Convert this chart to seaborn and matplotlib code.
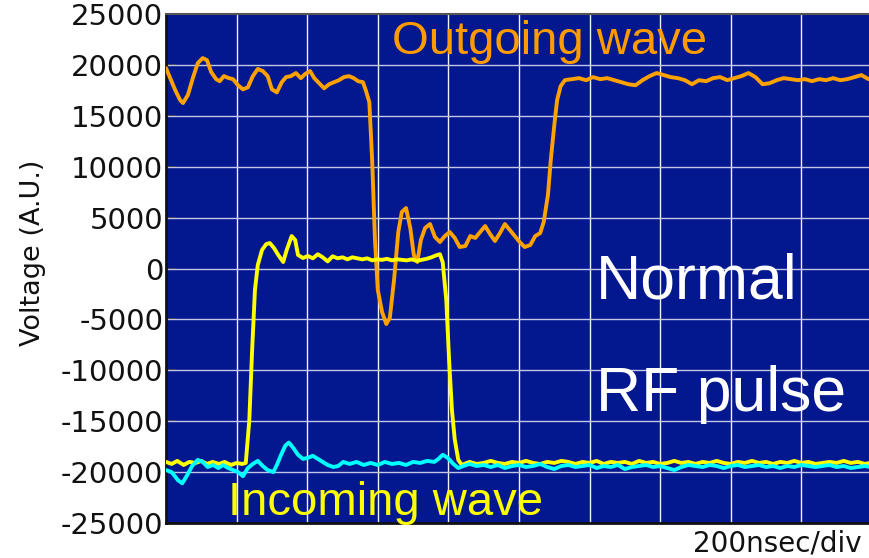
import matplotlib
matplotlib.use("Agg")
import matplotlib.pyplot as plt
import seaborn as sns
import numpy as np
import pandas as pd

# ---------------- data (x in divisions of 200 nsec, y in A.U.) ----------------
x_out = [0.00, 0.06, 0.13, 0.20, 0.24, 0.31, 0.38, 0.45, 0.52, 0.58, 0.64, 0.71, 0.76, 0.82,
         0.89, 0.95, 1.02, 1.09, 1.16, 1.23, 1.30, 1.37, 1.44, 1.50, 1.57, 1.64, 1.70, 1.77,
         1.84, 1.91, 1.97, 2.04, 2.10, 2.17, 2.24, 2.31, 2.38, 2.45, 2.52, 2.59, 2.66, 2.72,
         2.79, 2.83, 2.88, 2.92, 2.96, 3.00, 3.06, 3.12, 3.17, 3.23, 3.29, 3.34, 3.40, 3.46,
         3.51, 3.56, 3.61, 3.67, 3.74, 3.81, 3.88, 3.95, 4.02, 4.09, 4.16, 4.24, 4.31, 4.38,
         4.45, 4.52, 4.59, 4.66, 4.73, 4.80, 4.87, 4.94, 5.01, 5.08, 5.16, 5.23, 5.30, 5.35,
         5.41, 5.45, 5.50, 5.54, 5.59, 5.65,
         5.75, 5.85, 5.95, 6.05, 6.15, 6.25, 6.35, 6.45, 6.55, 6.65, 6.75, 6.85, 6.95, 7.05,
         7.15, 7.25, 7.35, 7.45, 7.55, 7.65, 7.75, 7.85, 7.95, 8.05, 8.15, 8.25, 8.35, 8.45,
         8.55, 8.65, 8.75, 8.85, 8.95, 9.05, 9.15, 9.25, 9.35, 9.45, 9.55, 9.65, 9.75, 9.85,
         9.95]
y_out = [19690, 18700, 17530, 16550, 16250, 17040, 18700, 20180, 20670, 20470, 19300, 18600,
         18400, 18900, 18700, 18600, 18000, 17600, 17800, 18900, 19600, 19400, 18900, 17600,
         17300, 18300, 18800, 18900, 19200, 18700, 19100, 19400, 18700, 18200, 17700, 18100,
         18300, 18500, 18800, 18900, 18700, 18400, 18300, 17500, 16350, 10650, 2800, -2100,
         -4270, -5450, -4860, -1130, 3580, 5550, 5940, 3980, 1330, 640, 2800, 3980, 4370,
         3090, 2600, 3190, 3580, 3000, 2110, 2210, 3190, 3000, 3580, 4170, 3390, 2700, 3480,
         4370, 3780, 3190, 2600, 2110, 2310, 3190, 3480, 4570, 7220, 10650, 14090, 16550,
         17920, 18500,
         18600, 18700, 18500, 18800, 18600, 18700, 18500, 18300, 18100, 18000, 18500, 18900,
         19200, 19000, 18800, 18700, 18500, 18100, 18500, 18400, 18700, 18800, 18500, 18700,
         18900, 19200, 18800, 18100, 18200, 18500, 18700, 18600, 18500, 18600, 18400, 18600,
         18500, 18700, 18500, 18600, 18800, 19000, 18600]

x_in = [0.00, 0.08, 0.16, 0.25, 0.33, 0.42, 0.50, 0.58, 0.66, 0.75, 0.83, 0.92, 1.00, 1.08,
        1.13, 1.18, 1.22, 1.26, 1.30, 1.36, 1.42, 1.47, 1.53, 1.59, 1.66, 1.71, 1.78, 1.83,
        1.87, 1.94, 2.01, 2.08, 2.15, 2.22, 2.29, 2.36, 2.43, 2.50, 2.57, 2.64, 2.71, 2.78,
        2.85, 2.92, 2.99, 3.06, 3.13, 3.20, 3.27, 3.34, 3.41, 3.48, 3.55, 3.62, 3.69, 3.76,
        3.83, 3.88, 3.92, 3.97, 4.01, 4.05, 4.09, 4.14, 4.19,
        4.30, 4.40, 4.50, 4.60, 4.70, 4.80, 4.90, 5.00, 5.10, 5.20, 5.30, 5.40, 5.50, 5.60,
        5.70, 5.80, 5.90, 6.00, 6.10, 6.20, 6.30, 6.40, 6.50, 6.60, 6.70, 6.80, 6.90, 7.00,
        7.10, 7.20, 7.30, 7.40, 7.50, 7.60, 7.70, 7.80, 7.90, 8.00, 8.10, 8.20, 8.30, 8.40,
        8.50, 8.60, 8.70, 8.80, 8.90, 9.00, 9.10, 9.20, 9.30, 9.40, 9.50, 9.60, 9.70, 9.80,
        9.90, 9.97]
y_in = [-19000, -19200, -18900, -19300, -19000, -19100, -18900, -19200, -19000, -19200,
        -19000, -19300, -19100, -19200, -19100, -14900, -8000, -2100, 340, 1820, 2400, 2500,
        2010, 1330, 640, 1820, 3190, 2800, 1330, 1030, 1230, 1000, 1400, 1100, 700, 1200,
        1000, 1100, 900, 1100, 1000, 900, 1000, 800, 900, 850, 950, 800, 900, 850, 800, 900,
        750, 850, 950, 1100, 1300, 1400, 600, -3090, -9000, -13900, -16800, -18800, -19300,
        -19000, -19200, -19100, -18900, -19100, -19200, -19000, -19100, -18900, -19100,
        -19200, -19000, -19100, -18900, -19000, -19200, -19000, -19100, -18900, -19200,
        -19000, -19100, -19000, -19200, -18900, -19100, -19000, -19200, -19100, -18900,
        -19100, -19000, -19200, -19000, -19100, -18900, -19100, -19200, -19000, -19100,
        -18900, -19100, -19000, -19200, -19000, -19100, -18900, -19100, -19000, -19200,
        -19100, -19000, -19100, -18900, -19100, -19000, -19200, -19100]

x_cy = [0.00, 0.08, 0.17, 0.23, 0.30, 0.37, 0.45, 0.52, 0.59, 0.67, 0.74, 0.81, 0.88, 0.95,
        1.02, 1.09, 1.16, 1.23, 1.30, 1.37, 1.44, 1.52, 1.57, 1.63, 1.69, 1.74, 1.80, 1.87,
        1.94, 2.01, 2.08, 2.15, 2.22, 2.29, 2.37, 2.44, 2.51, 2.60, 2.70, 2.80, 2.90, 3.00,
        3.10, 3.20, 3.30, 3.40, 3.50, 3.60, 3.70, 3.80, 3.86, 3.92, 3.99, 4.07, 4.14, 4.21,
        4.30, 4.40, 4.50, 4.60, 4.70, 4.80, 4.90, 5.00, 5.10, 5.20, 5.30, 5.40, 5.50, 5.60,
        5.70, 5.80, 5.90, 6.00, 6.10, 6.20, 6.30, 6.40, 6.50, 6.60, 6.70, 6.80, 6.90, 7.00,
        7.10, 7.20, 7.30, 7.40, 7.50, 7.60, 7.70, 7.80, 7.90, 8.00, 8.10, 8.20, 8.30, 8.40,
        8.50, 8.60, 8.70, 8.80, 8.90, 9.00, 9.10, 9.20, 9.30, 9.40, 9.50, 9.60, 9.70, 9.80,
        9.90, 9.97]
y_cy = [-19800, -20000, -20800, -21100, -20300, -19400, -18800, -19000, -19500, -19300,
        -19600, -19300, -19600, -19800, -20000, -20400, -19600, -19200, -18900, -19400,
        -19800, -20000, -19300, -18300, -17400, -17100, -17600, -18300, -18700, -18600,
        -18400, -18700, -19000, -19300, -19500, -19400, -19000, -19200, -19000, -19300,
        -19100, -19300, -19000, -19200, -19100, -19300, -19000, -19100, -18900, -19000,
        -18700, -18300, -18600, -19200, -19600, -19400,
        -19200, -19400, -19300, -19500, -19300, -19600, -19400, -19300, -19500, -19400,
        -19200, -19500, -19700, -19400, -19300, -19500, -19400, -19300, -19600, -19400,
        -19500, -19300, -19700, -19500, -19400, -19300, -19500, -19400, -19600, -19800,
        -19500, -19300, -19400, -19500, -19300, -19400, -19600, -19400, -19300, -19500,
        -19400, -19300, -19500, -19400, -19600, -19400, -19500, -19300, -19400, -19500,
        -19400, -19300, -19500, -19400, -19600, -19500, -19400, -19500]

y_ticks = [-25000, -20000, -15000, -10000, -5000, 0, 5000, 10000, 15000, 20000, 25000]

# ---------------- figure ----------------
sns.set_theme(style="ticks")
plt.rcParams["font.family"] = ["DejaVu Sans"]

W, H = 870, 558
fig = plt.figure(figsize=(W / 100, H / 100), dpi=100)
ax = fig.add_axes([166 / W, 35 / H, 704 / W, 509 / H])
bg = "#03188E"
ax.set_facecolor(bg)

sns.lineplot(x=x_out, y=y_out, ax=ax, color="#FFA200", linewidth=2.8, zorder=3)
sns.lineplot(x=x_in, y=y_in, ax=ax, color="#FFFF00", linewidth=2.8, zorder=4)
sns.lineplot(x=x_cy, y=y_cy, ax=ax, color="#00FFFF", linewidth=2.8, zorder=5)

ax.set_xlim(0, 704 / 70.6)
ax.set_ylim(-25000, 25000)
ax.set_xticks(np.arange(0, 10))
ax.set_xticklabels([])
ax.set_yticks(y_ticks)
ax.set_yticklabels([str(v) for v in y_ticks], fontsize=21, color="#111111")
ax.tick_params(axis="x", length=0)
ax.tick_params(axis="y", direction="in", length=7, width=1.2, color="#333333", pad=2)

for v in np.arange(1, 10):
    ax.axvline(v, color="#F0F0FF", lw=1.0, zorder=1)
for v in y_ticks[1:-1]:
    ax.axhline(v, color="#C4C6E6", lw=1.0, zorder=1)
ax.grid(False)

for s in ["left", "bottom"]:
    ax.spines[s].set_color("#111111")
    ax.spines[s].set_linewidth(2.0)
ax.spines["top"].set_color("#555555")
ax.spines["top"].set_linewidth(1.5)
ax.spines["right"].set_visible(False)

ax.set_xlabel("")
ax.set_ylabel("Voltage (A.U.)", fontsize=19.5, color="#111111")
ax.yaxis.set_label_coords(-0.170, 0.53)

lab = ["Liberation Sans", "DejaVu Sans"]
ax.text(3.20, 21060, "Outgoing wave", color="#FF9A00", fontsize=34, family=lab,
        ha="left", va="baseline", zorder=6)
ax.text(6.09, -2900, "Normal", color="white", fontsize=45, family=lab,
        ha="left", va="baseline", zorder=6)
ax.text(6.09, -14000, "RF pulse", color="white", fontsize=45, family=lab,
        ha="left", va="baseline", zorder=6)
ax.text(0.88, -24200, "Incoming wave", color="#FFFF00", fontsize=34, family=lab,
        ha="left", va="baseline", zorder=6)

fig.text(862 / W, 1 - 551 / H, "200nsec/div", fontsize=20, color="#111111",
         ha="right", va="baseline")

fig.savefig("out.png", dpi=100, facecolor="white")
